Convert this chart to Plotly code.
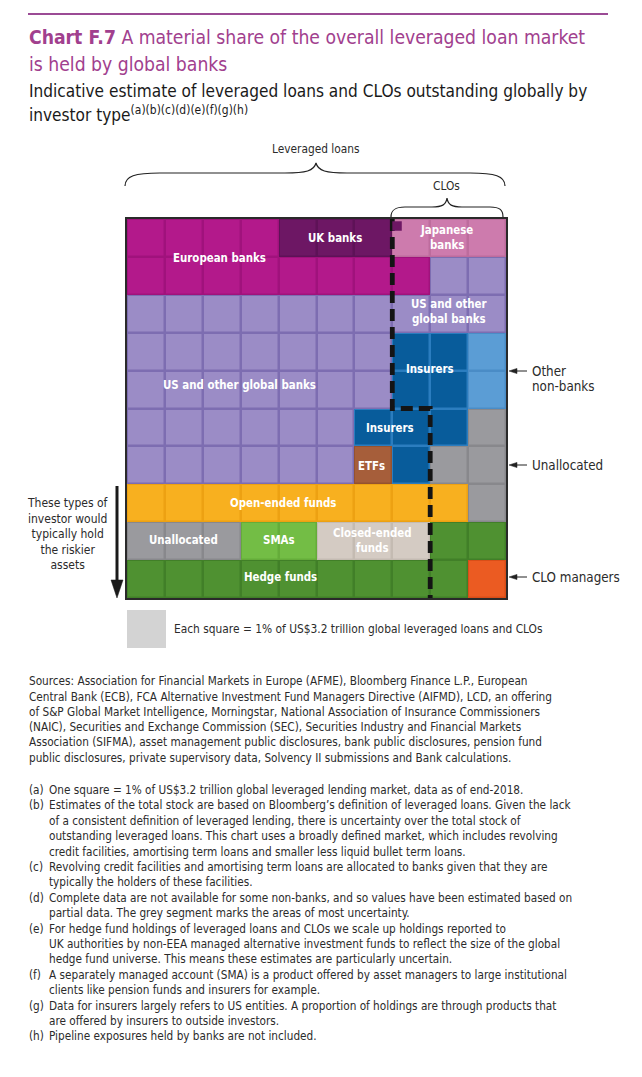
import plotly.graph_objects as go

# page is 642x1077; the HTML body keeps an 8px margin, so the figure is drawn inside it
PAGE_W, PAGE_H = 642, 1077
OX, OY = 8, 8
W, H = PAGE_W - 2 * OX, PAGE_H - 2 * OY
FONT = "Liberation Sans Narrow, DejaVu Sans Condensed, Roboto, sans-serif"

# ---------------- data ----------------
codes = ["E", "K", "J", "U", "I", "O", "G", "T", "F", "S", "C", "H", "M"]
categories = ["European banks", "UK banks", "Japanese banks", "US and other global banks",
              "Insurers", "Other non-banks", "Unallocated", "ETFs", "Open-ended funds",
              "SMAs", "Closed-ended funds", "Hedge funds", "CLO managers"]
fill_colors = ["#B3198B", "#6D1764", "#CD7BAD", "#9B8CC6", "#085C9B", "#5B9DD5", "#9A9A9E",
               "#A65E3A", "#F8B01F", "#73BD45", "#D4CBC3", "#4F9131", "#EB5B22"]
edge_colors = ["#A0127C", "#5E1257", "#BD6C9D", "#7D6DB1", "#2B7DBF", "#4A8CC6", "#88888C",
               "#94522F", "#EDA112", "#65AC3A", "#C4BBB2", "#417F28", "#D84E18"]

# 10 x 10 waffle, one square = 1% of US$3.2tn
grid_rows = [
    "E E E E K K K J J J",
    "E E E E E E E E U U",
    "U U U U U U U U U U",
    "U U U U U U U I I O",
    "U U U U U U U I I O",
    "U U U U U U I I I G",
    "U U U U U U T I G G",
    "F F F F F F F F F G",
    "G G G S S C C C H H",
    "H H H H H H H H H M",
]
# first column of each row that belongs to CLOs
clo_first_col = [7, 7, 7, 7, 7, 8, 8, 8, 8, 8]
# fraction of a square of UK-bank CLO holdings (row 0, first CLO column)
uk_clo_fraction = 0.25

# labels inside the waffle: (text, col, row)
block_labels = [
    ("European banks", 1.93, 0.53),
    ("UK banks", 4.99, 0.0),
    ("Japanese<br>banks", 7.94, 0.0),
    ("US and other<br>global banks", 8.02, 1.95),
    ("US and other global banks", 2.48, 3.88),
    ("Insurers", 7.49, 3.46),
    ("Insurers", 6.44, 5.01),
    ("ETFs", 5.96, 6.02),
    ("Open-ended funds", 3.62, 6.99),
    ("Unallocated", 1.0, 7.97),
    ("SMAs", 3.51, 7.97),
    ("Closed-ended<br>funds", 5.99, 7.97),
    ("Hedge funds", 3.54, 8.95),
]

sources_lines = [
    "Sources: Association for Financial Markets in Europe (AFME), Bloomberg Finance L.P., European",
    "Central Bank (ECB), FCA Alternative Investment Fund Managers Directive (AIFMD), LCD, an offering",
    "of S&amp;P Global Market Intelligence, Morningstar, National Association of Insurance Commissioners",
    "(NAIC), Securities and Exchange Commission (SEC), Securities Industry and Financial Markets",
    "Association (SIFMA), asset management public disclosures, bank public disclosures, pension fund",
    "public disclosures, private supervisory data, Solvency II submissions and Bank calculations.",
]
footnotes = [
    ("(a)", ["One square = 1% of US$3.2 trillion global leveraged lending market, data as of end-2018."]),
    ("(b)", ["Estimates of the total stock are based on Bloomberg\u2019s definition of leveraged loans. Given the lack",
             "of a consistent definition of leveraged lending, there is uncertainty over the total stock of",
             "outstanding leveraged loans. This chart uses a broadly defined market, which includes revolving",
             "credit facilities, amortising term loans and smaller less liquid bullet term loans."]),
    ("(c)", ["Revolving credit facilities and amortising term loans are allocated to banks given that they are",
             "typically the holders of these facilities."]),
    ("(d)", ["Complete data are not available for some non-banks, and so values have been estimated based on",
             "partial data. The grey segment marks the areas of most uncertainty."]),
    ("(e)", ["For hedge fund holdings of leveraged loans and CLOs we scale up holdings reported to",
             "UK authorities by non-EEA managed alternative investment funds to reflect the size of the global",
             "hedge fund universe. This means these estimates are particularly uncertain."]),
    ("(f)", ["A separately managed account (SMA) is a product offered by asset managers to large institutional",
             "clients like pension funds and insurers for example."]),
    ("(g)", ["Data for insurers largely refers to US entities. A proportion of holdings are through products that",
             "are offered by insurers to outside investors."]),
    ("(h)", ["Pipeline exposures held by banks are not included."]),
]

# ---------------- helpers ----------------
def PX(x):
    return (x - OX) / W


def PY(y):
    return 1 - (y - OY) / H


grid = [r.split() for r in grid_rows]
z = [[codes.index(c) for c in row] for row in grid]
n = len(codes)


def discrete_scale(cols):
    sc = []
    for i, c in enumerate(cols):
        sc.append([i / n, c])
        sc.append([(i + 1) / n, c])
    return sc


cols_idx = list(range(len(grid[0])))
rows_idx = list(range(len(grid)))

fig = go.Figure()
# border layer
fig.add_trace(go.Heatmap(z=z, x=cols_idx, y=rows_idx, colorscale=discrete_scale(edge_colors),
                         zmin=-0.5, zmax=n - 0.5, showscale=False, hoverinfo="skip"))
# fill layer with gaps
fig.add_trace(go.Heatmap(z=z, x=cols_idx, y=rows_idx, colorscale=discrete_scale(fill_colors),
                         zmin=-0.5, zmax=n - 0.5, showscale=False, xgap=2.5, ygap=2.5,
                         hoverinfo="skip"))

# small UK-bank CLO piece
k = clo_first_col[0]
fig.add_shape(type="rect", xref="x", yref="y",
              x0=k - 0.5, x1=k - 0.5 + uk_clo_fraction,
              y0=-0.5 + 0.06, y1=-0.5 + 0.06 + uk_clo_fraction,
              fillcolor=fill_colors[codes.index("K")], line_width=0)

# dashed boundary between leveraged loans and CLOs
bx, by = [], []
for r, c in enumerate(clo_first_col):
    bx += [c - 0.5, c - 0.5]
    by += [r - 0.5, r + 0.5]
fig.add_trace(go.Scatter(x=bx, y=by, mode="lines", hoverinfo="skip", showlegend=False,
                         line=dict(color="#141414", width=4.8, dash="12px,6px")))

for txt, cx, cy in block_labels:
    fig.add_annotation(x=cx, y=cy, xref="x", yref="y", text=txt, showarrow=False,
                       font=dict(family=FONT, size=11.4, color="white", weight="bold"),
                       xanchor="center", yanchor="middle", align="center")

fig.update_xaxes(domain=[PX(127), PX(506)], range=[-0.5, 9.5], showgrid=False, zeroline=False,
                 showticklabels=False, ticks="", showline=True, mirror=True,
                 linecolor="#2a2a2a", linewidth=1.5, fixedrange=True)
fig.update_yaxes(domain=[PY(598), PY(219)], range=[9.5, -0.5], showgrid=False, zeroline=False,
                 showticklabels=False, ticks="", showline=True, mirror=True,
                 linecolor="#2a2a2a", linewidth=1.5, fixedrange=True)

# top rule
fig.add_shape(type="line", xref="paper", yref="paper", x0=PX(28), x1=PX(608),
              y0=PY(14), y1=PY(14), line=dict(color="#9B4B95", width=2.2))


def path(pts_cmds):
    out = []
    for cmd in pts_cmds:
        if isinstance(cmd, str):
            out.append(cmd)
        else:
            out.append(f"{PX(cmd[0]):.5f},{PY(cmd[1]):.5f}")
    return " ".join(out)


big_brace = path(["M", (125, 186), "C", (125, 176), (135, 173), (160, 173),
                  "L", (285, 173), "C", (306, 173), (314, 171), (316, 163),
                  "C", (318, 171), (326, 173), (347, 173),
                  "L", (470, 173), "C", (495, 173), (505, 176), (505, 186)])
clo_brace = path(["M", (391, 217), "C", (391, 210), (395, 207), (405, 207),
                  "L", (432, 207), "C", (442, 207), (446, 205), (447, 198),
                  "C", (448, 205), (452, 207), (462, 207),
                  "L", (490, 207), "C", (500, 207), (503, 210), (503, 217)])
for p in (big_brace, clo_brace):
    fig.add_shape(type="path", xref="paper", yref="paper", path=p,
                  line=dict(color="#222", width=1.2))

# pointer arrows to the right of the grid
for yy in (371, 465, 577):
    fig.add_shape(type="line", xref="paper", yref="paper", x0=PX(527), x1=PX(514),
                  y0=PY(yy), y1=PY(yy), line=dict(color="#222", width=1))
    fig.add_shape(type="path", xref="paper", yref="paper",
                  path=path(["M", (509, yy), "L", (517, yy - 2.6), "L", (517, yy + 2.6), "Z"]),
                  fillcolor="#222", line=dict(color="#222", width=0.5))
# riskier-assets arrow
fig.add_shape(type="line", xref="paper", yref="paper", x0=PX(117), x1=PX(117),
              y0=PY(486), y1=PY(584), line=dict(color="#1a1a1a", width=3))
fig.add_shape(type="path", xref="paper", yref="paper",
              path=path(["M", (117, 598), "L", (111, 580), "L", (123, 580), "Z"]),
              fillcolor="#1a1a1a", line=dict(color="#1a1a1a", width=0.5))

# key square
fig.add_shape(type="rect", xref="paper", yref="paper", x0=PX(127), x1=PX(166),
              y0=PY(648), y1=PY(610), fillcolor="#D3D3D3", line_width=0)

ann = []
TITLE_C = "#A1408E"
ann.append(dict(x=PX(27), y=PY(38), text="<b>Chart F.7</b> A material share of the overall leveraged loan market",
                font=dict(size=19.2, color=TITLE_C)))
ann.append(dict(x=PX(27), y=PY(64), text="is held by global banks", font=dict(size=19.2, color=TITLE_C)))
ann.append(dict(x=PX(27), y=PY(91), text="Indicative estimate of leveraged loans and CLOs outstanding globally by",
                font=dict(size=17.1, color="#1a1a1a")))
ann.append(dict(x=PX(27), y=PY(114), text="investor type<sup>(a)(b)(c)(d)(e)(f)(g)(h)</sup>",
                font=dict(size=17.1, color="#1a1a1a")))

ann.append(dict(x=PX(316), y=PY(149), text="Leveraged loans", xanchor="center", font=dict(size=11.8)))
ann.append(dict(x=PX(447), y=PY(186), text="CLOs", xanchor="center", font=dict(size=11.8)))

ann.append(dict(x=PX(68), y=PY(534),
                text="These types of<br>investor would<br>typically hold<br>the riskier<br>assets",
                xanchor="center", align="center", font=dict(size=12)))

for txt, yy in [("Other", 371), ("non-banks", 386), ("Unallocated", 465), ("CLO managers", 577)]:
    ann.append(dict(x=PX(530), y=PY(yy), text=txt, font=dict(size=13.3)))

ann.append(dict(x=PX(172), y=PY(629),
                text="Each square = 1% of US$3.2 trillion global leveraged loans and CLOs",
                font=dict(size=11.85)))

src_y = [681, 697, 712, 727, 742, 758]
for txt, yy in zip(sources_lines, src_y):
    ann.append(dict(x=PX(27), y=PY(yy), text=txt, font=dict(size=11.7)))

fy = 790
for lab, lines in footnotes:
    ann.append(dict(x=PX(27), y=PY(fy), text=lab, font=dict(size=11.7)))
    for ln in lines:
        ann.append(dict(x=PX(47), y=PY(fy), text=ln, font=dict(size=11.7)))
        fy += 15.4

for a in ann:
    a.setdefault("xref", "paper")
    a.setdefault("yref", "paper")
    a.setdefault("showarrow", False)
    a.setdefault("xanchor", "left")
    a.setdefault("yanchor", "middle")
    f = a.setdefault("font", {})
    f.setdefault("family", FONT)
    f.setdefault("color", "#2b2b2b")
    fig.add_annotation(**a)

fig.update_layout(width=W, height=H, margin=dict(l=0, r=0, t=0, b=0),
                  paper_bgcolor="white", plot_bgcolor="white", showlegend=False,
                  font=dict(family=FONT))

fig.write_html("out.html")
